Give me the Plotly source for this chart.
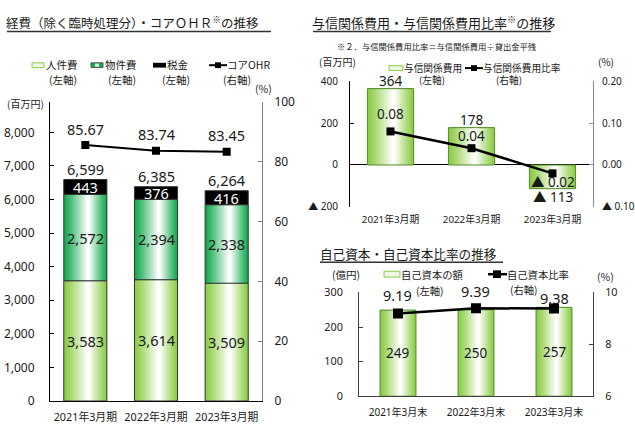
import plotly.graph_objects as go

W, H = 635, 434


def px(x):
    return x / W


def py(y):
    return 1 - y / H


# ---------------- data ----------------
periods_exp = ["2021年3月期", "2022年3月期", "2023年3月期"]
personnel_cost = [3583, 3614, 3509]
property_cost = [2572, 2394, 2338]
tax_cost = [443, 376, 416]
total_cost = [6599, 6385, 6264]
core_ohr = [85.67, 83.74, 83.45]
exp_ticks = [0, 1000, 2000, 3000, 4000, 5000, 6000, 7000, 8000]
ohr_ticks = [0, 20, 40, 60, 80, 100]

periods_credit = ["2021年3月期", "2022年3月期", "2023年3月期"]
credit_cost = [364, 178, -113]
credit_ratio = [0.08, 0.04, -0.02]
credit_ticks = [-200, 0, 200, 400]
credit_ratio_ticks = [-0.10, 0.00, 0.10, 0.20]

periods_equity = ["2021年3月末", "2022年3月末", "2023年3月末"]
equity_amount = [249, 250, 257]
equity_ratio = [9.19, 9.39, 9.38]
equity_ticks = [0, 100, 200, 300]
equity_ratio_ticks = [6, 8, 10]

# ---------------- style ----------------
JP = "Noto Sans CJK JP"
NUM = "Noto Sans, Noto Sans CJK JP"
TXT = "#1a1a1a"
LIGHT_GREEN = (140, 204, 70)
DARK_GREEN = (20, 170, 80)
RATIO_SHIFT = [17, 12, -9]
EQUITY_SHIFT = [18, 17, 11]


def mix(c, t):
    r, g, b = [round(v + (255 - v) * t) for v in c]
    return f"rgb({r},{g},{b})"


def tri(v):
    return ("▲ " if v < 0 else "") + f"{abs(v):,}"


def tri2(v, d):
    return ("▲ " if v < 0 else "") + f"{abs(v):.{d}f}"


fig = go.Figure()


def grad_bars(x, y, base, edge, width, xa, ya, outline, n=16, shift=0.07):
    for k in range(n):
        t = k / n
        w = width * (1 - t)
        c = mix(edge, min(1.0, (k / (n - 1)) ** 1.1))
        fig.add_trace(go.Bar(
            x=x, y=y, base=base, width=w, offset=-w / 2 + shift * width * t,
            marker=dict(color=c, line=dict(width=0)),
            xaxis=xa, yaxis=ya, showlegend=False, hoverinfo="skip"))
    fig.add_trace(go.Bar(
        x=x, y=y, base=base, width=width, offset=-width / 2,
        marker=dict(color="rgba(0,0,0,0)", line=dict(color=outline, width=1)),
        xaxis=xa, yaxis=ya, showlegend=False, hoverinfo="skip"))


# ---------- left chart ----------
base2 = personnel_cost
base3 = [a + b for a, b in zip(personnel_cost, property_cost)]
stack_top = [a + b for a, b in zip(base3, tax_cost)]
BW1 = 0.61
grad_bars(periods_exp, personnel_cost, [0] * 3, LIGHT_GREEN, BW1, "x", "y", "#333333")
grad_bars(periods_exp, property_cost, base2, DARK_GREEN, BW1, "x", "y", "#333333")
fig.add_trace(go.Bar(x=periods_exp, y=tax_cost, base=base3, width=BW1, offset=-BW1 / 2,
                     marker=dict(color="#000000", line=dict(color="#333333", width=1)),
                     xaxis="x", yaxis="y", showlegend=False, hoverinfo="skip"))
fig.add_trace(go.Scatter(x=periods_exp, y=core_ohr, mode="lines+markers",
                         line=dict(color="#000000", width=2),
                         marker=dict(symbol="square", size=8, color="#000000"),
                         xaxis="x", yaxis="y2", showlegend=False, hoverinfo="skip"))

# ---------- top-right chart ----------
BW2 = 0.57
grad_bars(periods_credit, credit_cost, [0] * 3, LIGHT_GREEN, BW2, "x2", "y3", "#4f8a2c")
fig.add_trace(go.Scatter(x=periods_credit, y=credit_ratio, mode="lines+markers",
                         line=dict(color="#000000", width=2.5),
                         marker=dict(symbol="square", size=8, color="#000000"),
                         xaxis="x2", yaxis="y4", showlegend=False, hoverinfo="skip"))

# ---------- bottom-right chart ----------
BW3 = 0.46
grad_bars(periods_equity, equity_amount, [0] * 3, LIGHT_GREEN, BW3, "x3", "y5", "#4f8a2c")
fig.add_trace(go.Scatter(x=periods_equity, y=equity_ratio, mode="lines+markers",
                         line=dict(color="#000000", width=2.5),
                         marker=dict(symbol="square", size=10, color="#000000"),
                         xaxis="x3", yaxis="y6", showlegend=False, hoverinfo="skip"))

ann = []


def data_label(x, y, text, xref, yref, size, shift=0, color=TXT):
    ann.append(dict(x=x, y=y, xref=xref, yref=yref, text=text, showarrow=False,
                    yshift=shift, font=dict(family=NUM, size=size, color=color),
                    xanchor="center", yanchor="middle", borderpad=0))


for i, p in enumerate(periods_exp):
    data_label(p, personnel_cost[i] / 2, f"{personnel_cost[i]:,}", "x", "y", 14.5)
    data_label(p, base2[i] + property_cost[i] / 2, f"{property_cost[i]:,}", "x", "y", 14.5)
    data_label(p, base3[i] + tax_cost[i] / 2, f"{tax_cost[i]:,}", "x", "y", 14.5, color="#ffffff")
    data_label(p, stack_top[i], f"{total_cost[i]:,}", "x", "y", 14.5, shift=10.5)
    data_label(p, core_ohr[i], f"{core_ohr[i]:.2f}", "x", "y2", 14.5, shift=16.5)

for i, p in enumerate(periods_credit):
    v = credit_cost[i]
    data_label(p, v, tri(v), "x2", "y3", 13.5, shift=8 if v >= 0 else -8.5)
    r = credit_ratio[i]
    data_label(p, r, tri2(r, 2), "x2", "y4", 13.5, shift=RATIO_SHIFT[i])

for i, p in enumerate(periods_equity):
    data_label(p, equity_amount[i] / 2, f"{equity_amount[i]:,}", "x3", "y5", 13.5)
    data_label(p, equity_ratio[i], f"{equity_ratio[i]:.2f}", "x3", "y6", 14.5, shift=EQUITY_SHIFT[i])


def text(x, y, t, size, anchor="left", family=JP):
    ann.append(dict(x=px(x), y=py(y), xref="paper", yref="paper", text=t, showarrow=False,
                    font=dict(family=family, size=size, color=TXT), xanchor=anchor,
                    yanchor="middle", borderpad=0, borderwidth=0))


shapes = []


def hline(x0, x1, y, color="#333333", width=1.5):
    shapes.append(dict(type="line", xref="paper", yref="paper", x0=px(x0), x1=px(x1),
                       y0=py(y), y1=py(y), line=dict(color=color, width=width)))


def rect(x0, x1, y0, y1, fill, line=None):
    shapes.append(dict(type="rect", xref="paper", yref="paper", x0=px(x0), x1=px(x1),
                       y0=py(y0), y1=py(y1), fillcolor=fill,
                       line=dict(color=line or fill, width=1 if line else 0)))


# titles
text(6, 14, "経費（除く臨時処理分）・コアＯＨＲ<sup>※</sup>の推移", 12.5)
hline(7, 271, 23.5)
text(312, 14, "与信関係費用・与信関係費用比率<sup>※</sup>の推移", 13)
hline(313, 551, 23.5)
text(320, 254, "自己資本・自己資本比率の推移", 12.6)
hline(320, 503, 263.5)
text(337, 39, "※２．与信関係費用比率＝与信関係費用÷貸出金平残", 8.3)

# left legend
rect(32, 44, 56, 61, mix(LIGHT_GREEN, 0.85), mix(LIGHT_GREEN, 0))
text(46, 58, "人件費", 10.5)
text(63, 73, "(左軸)", 10.5, "center")
rect(91, 103, 56, 61, mix(DARK_GREEN, 0.0), "#555555")
rect(95, 99, 56.8, 60.2, mix(DARK_GREEN, 0.8))
text(105, 58, "物件費", 10.5)
text(122, 73, "(左軸)", 10.5, "center")
rect(153, 166, 56, 61, "#000000")
text(167, 58, "税金", 10.5)
text(176, 73, "(左軸)", 10.5, "center")
hline(209, 227, 58.5, "#000000", 2)
rect(215, 221, 55.5, 61.5, "#000000")
text(227, 58, "コアOHR", 10.5)
text(237, 73, "(右軸)", 10.5, "center")
text(263, 83, "(%)", 10.5, "center")
text(25, 98, "(百万円)", 10, "center")

# top-right legend
text(337, 55, "(百万円)", 10, "center")
rect(389, 403, 59, 64, mix(LIGHT_GREEN, 0.85), mix(LIGHT_GREEN, 0))
text(404, 61, "与信関係費用", 9.7)
hline(465, 483, 61.5, "#000000", 2)
rect(471, 477, 58.5, 64.5, "#000000")
text(483, 61, "与信関係費用比率", 9.7)
text(432, 74, "(左軸)", 9.7, "center")
text(509, 74, "(右軸)", 9.7, "center")
text(606, 55, "(%)", 10, "center")

# bottom-right legend
text(346, 276, "(億円)", 10.5, "center")
rect(384, 400, 273, 279, mix(LIGHT_GREEN, 0.85), mix(LIGHT_GREEN, 0))
text(401, 276, "自己資本の額", 10.3)
hline(488, 507, 276, "#000000", 2.5)
rect(493, 501, 272, 280, "#000000")
text(507, 276, "自己資本比率", 10.3)
text(430, 293, "(左軸)", 10.3, "center")
text(524, 292, "(右軸)", 10.3, "center")
text(605, 278, "(%)", 10.5, "center")


def tickfont(s):
    return dict(family=NUM, size=s, color=TXT)


fig.update_layout(
    width=W, height=H, margin=dict(l=0, r=0, t=0, b=0, pad=0),
    paper_bgcolor="white", plot_bgcolor="white", barmode="overlay",
    showlegend=False, annotations=ann, shapes=shapes,
    xaxis=dict(domain=[px(50), px(262)], anchor="y", type="category", range=[-0.5, 2.5],
               showline=True, linecolor="#000000", linewidth=1, ticks="", showgrid=False,
               tickfont=dict(family=NUM, size=10.8, color=TXT), ticklabelstandoff=6),
    yaxis=dict(domain=[py(408), py(97)], range=[0, 8900], tickvals=exp_ticks,
               ticktext=[f"{v:,}" for v in exp_ticks], showline=True, linecolor="#000000",
               ticks="inside", ticklen=4, tickcolor="#000000", showgrid=False, zeroline=False,
               tickfont=tickfont(12), ticklabelstandoff=12),
    yaxis2=dict(overlaying="y", anchor="x", side="right", range=[0, 100], tickvals=ohr_ticks,
                showline=True, linecolor="#808080", ticks="inside", ticklen=4, tickcolor="#808080",
                showgrid=False, zeroline=False, tickfont=tickfont(12), ticklabelstandoff=9),
    xaxis2=dict(domain=[px(350), px(593)], anchor="y3", type="category", range=[-0.5, 2.5],
                showline=False, ticks="", showgrid=False,
                tickfont=dict(family=NUM, size=9.8, color=TXT), ticklabelstandoff=5),
    yaxis3=dict(domain=[py(206), py(75)], anchor="x2", range=[-200, 400], tickvals=credit_ticks,
                ticktext=[tri(v) for v in credit_ticks], showline=True, linecolor="#000000",
                ticks="inside", ticklen=4, tickcolor="#000000", showgrid=False,
                zeroline=True, zerolinecolor="#000000", zerolinewidth=1,
                tickfont=tickfont(10), ticklabelstandoff=9),
    yaxis4=dict(overlaying="y3", anchor="x2", side="right", range=[-0.1, 0.2],
                tickvals=credit_ratio_ticks, ticktext=[tri2(v, 2) for v in credit_ratio_ticks],
                showline=True, linecolor="#8c8c8c", ticks="inside", ticklen=4, tickcolor="#8c8c8c",
                showgrid=False, zeroline=False, tickfont=tickfont(10), ticklabelstandoff=6),
    xaxis3=dict(domain=[px(359), px(593)], anchor="y5", type="category", range=[-0.5, 2.5],
                showline=True, linecolor="#404040", ticks="", showgrid=False,
                tickfont=dict(family=NUM, size=10, color=TXT), ticklabelstandoff=7),
    yaxis5=dict(domain=[py(403), py(295)], anchor="x3", range=[0, 300], tickvals=equity_ticks,
                showline=True, linecolor="#404040", ticks="inside", ticklen=4, tickcolor="#404040",
                showgrid=False, zeroline=False, tickfont=tickfont(10.8), ticklabelstandoff=13),
    yaxis6=dict(overlaying="y5", anchor="x3", side="right", range=[6, 10],
                tickvals=equity_ratio_ticks, showline=True, linecolor="#404040", ticks="inside",
                ticklen=4, tickcolor="#404040", showgrid=False, zeroline=False,
                tickfont=tickfont(10.8), ticklabelstandoff=9),
)

fig.write_html(
    "out.html",
    config={"displayModeBar": False},
    post_script="document.body.style.margin='0';document.documentElement.style.overflow='hidden';",
)
